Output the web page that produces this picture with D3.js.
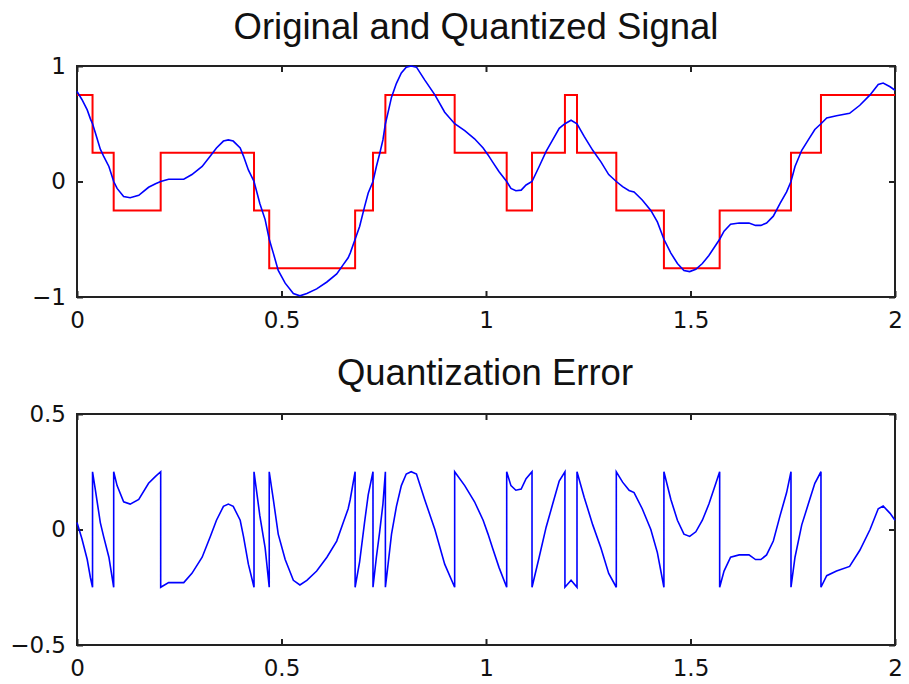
<!DOCTYPE html>
<html>
<head>
<meta charset="utf-8">
<script src="https://cdn.jsdelivr.net/npm/d3@7"></script>
<style>
  body { margin: 0; background: #fff; }
  svg { display: block; }
  text { fill: #111; }
</style>
</head>
<body>
<svg id="chart" width="909" height="684"></svg>
<script>
// signal samples (time, value)
const sigT = [0, 0.012, 0.025, 0.033, 0.038, 0.045, 0.057, 0.065, 0.078, 0.0897,
  0.098, 0.114, 0.13, 0.151, 0.175, 0.192, 0.2046, 0.224, 0.261, 0.281,
  0.306, 0.326, 0.341, 0.358, 0.37, 0.382, 0.399, 0.407, 0.419, 0.4328,
  0.447, 0.46, 0.47, 0.48, 0.492, 0.509, 0.529, 0.545, 0.562, 0.586,
  0.611, 0.635, 0.651, 0.663, 0.668, 0.68, 0.691, 0.703, 0.712, 0.7237,
  0.732, 0.74, 0.748, 0.754, 0.76, 0.769, 0.781, 0.793, 0.805, 0.817,
  0.83, 0.85, 0.875, 0.899, 0.9234, 0.948, 0.972, 0.993, 1.005, 1.016,
  1.032, 1.0506, 1.061, 1.073, 1.086, 1.098, 1.1125, 1.13, 1.147, 1.163,
  1.179, 1.193, 1.208, 1.2225, 1.24, 1.261, 1.281, 1.3, 1.3186, 1.334,
  1.35, 1.362, 1.382, 1.403, 1.419, 1.435, 1.452, 1.468, 1.484, 1.498,
  1.513, 1.529, 1.545, 1.562, 1.5713, 1.582, 1.598, 1.619, 1.643, 1.659,
  1.672, 1.686, 1.7025, 1.719, 1.735, 1.7457, 1.7555, 1.772, 1.788, 1.804,
  1.819, 1.833, 1.857, 1.889, 1.914, 1.939, 1.959, 1.971, 1.988, 2]
const sigV = [0.78, 0.71, 0.62, 0.54, 0.5, 0.42, 0.28, 0.22, 0.13, 0,
  -0.06, -0.13, -0.14, -0.12, -0.05, -0.02, 0, 0.02, 0.02, 0.06,
  0.13, 0.22, 0.29, 0.35, 0.36, 0.35, 0.29, 0.22, 0.1, 0,
  -0.19, -0.33, -0.5, -0.62, -0.77, -0.88, -0.97, -0.99, -0.97, -0.93,
  -0.87, -0.8, -0.72, -0.66, -0.62, -0.5, -0.39, -0.22, -0.1, 0,
  0.13, 0.24, 0.36, 0.5, 0.59, 0.73, 0.85, 0.94, 0.99, 1.0,
  0.99, 0.88, 0.75, 0.6, 0.5, 0.44, 0.37, 0.29, 0.23, 0.17,
  0.085, 0, -0.06, -0.08, -0.075, -0.03, 0, 0.13, 0.26, 0.36,
  0.46, 0.5, 0.53, 0.5, 0.39, 0.27, 0.17, 0.06, 0, -0.045,
  -0.08, -0.09, -0.16, -0.25, -0.35, -0.5, -0.62, -0.71, -0.77, -0.78,
  -0.76, -0.71, -0.64, -0.55, -0.5, -0.43, -0.37, -0.36, -0.36, -0.38,
  -0.38, -0.36, -0.3, -0.19, -0.09, 0, 0.13, 0.27, 0.36, 0.45,
  0.5, 0.55, 0.57, 0.59, 0.66, 0.75, 0.84, 0.852, 0.82, 0.79]

// quantized staircase: change points and the level held after each
const stepEdges = [0, 0.038, 0.0897, 0.2046, 0.4328, 0.47, 0.68, 0.7237, 0.754, 0.9234,
  1.0506, 1.1125, 1.193, 1.2225, 1.3186, 1.435, 1.5713, 1.7457, 1.819, 2]
const stepLevels = [0.75, 0.25, -0.25, 0.25, -0.25, -0.75, -0.25, 0.25, 0.75, 0.25,
  -0.25, 0.25, 0.75, 0.25, -0.25, -0.75, -0.25, 0.25, 0.75]

const xTicks = [0, 0.5, 1, 1.5, 2]
const xTickLabels = ['0', '0.5', '1', '1.5', '2']
const topYTicks = [-1, 0, 1]
const topYLabels = ['\u22121', '0', '1']
const botYTicks = [-0.5, 0, 0.5]
const botYLabels = ['\u22120.5', '0', '0.5']

const svg = d3.select('#chart')
const left = 77, right = 895

const x = d3.scaleLinear().domain([0, 2]).range([left, right])
const yTop = d3.scaleLinear().domain([-1, 1]).range([297, 66])
const yBot = d3.scaleLinear().domain([-0.5, 0.5]).range([645, 414])

const signal = sigT.map((t, i) => ({ t, v: sigV[i] }))
const steps = stepLevels.map((v, i) => ({ t: stepEdges[i], v }))
steps.push({ t: stepEdges[stepEdges.length - 1], v: stepLevels[stepLevels.length - 1] })

function levelIndex (t) {
  let i = 0
  while (i < stepLevels.length - 1 && stepEdges[i + 1] <= t) i++
  return i
}

// error = signal - quantized; at a change point keep both sides
const errorPts = []
signal.forEach(d => {
  const k = stepEdges.indexOf(d.t)
  if (k > 0 && k < stepEdges.length - 1) {
    errorPts.push({ t: d.t, e: d.v - stepLevels[k - 1] })
    errorPts.push({ t: d.t, e: d.v - stepLevels[k] })
  } else {
    errorPts.push({ t: d.t, e: d.v - stepLevels[levelIndex(d.t)] })
  }
})

function drawFrame (y, yTicks, yLabels, title, titleX, titleY) {
  const [bottom, top] = y.range()
  const g = svg.append('g')

  g.append('g')
    .attr('transform', `translate(0,${bottom})`)
    .call(d3.axisBottom(x).tickValues(xTicks).tickFormat((d, i) => xTickLabels[i])
      .tickSizeInner(-6).tickSizeOuter(0).tickPadding(15))
  g.append('g')
    .attr('transform', `translate(0,${top})`)
    .call(d3.axisTop(x).tickValues(xTicks).tickFormat('')
      .tickSizeInner(-6).tickSizeOuter(0))
  g.append('g')
    .attr('transform', `translate(${left},0)`)
    .call(d3.axisLeft(y).tickValues(yTicks).tickFormat((d, i) => yLabels[i])
      .tickSizeInner(-6).tickSizeOuter(0).tickPadding(11))
  g.append('g')
    .attr('transform', `translate(${right},0)`)
    .call(d3.axisRight(y).tickValues(yTicks).tickFormat('')
      .tickSizeInner(-6).tickSizeOuter(0))

  g.selectAll('.domain').remove()
  g.selectAll('.tick line').attr('stroke', '#222').attr('stroke-width', 2)
  g.selectAll('.tick text')
    .attr('font-family', '"DejaVu Sans", sans-serif')
    .attr('font-size', 23)
    .attr('fill', '#111')

  g.append('rect')
    .attr('x', left).attr('y', top)
    .attr('width', right - left).attr('height', bottom - top)
    .attr('fill', 'none').attr('stroke', '#222').attr('stroke-width', 2)

  svg.append('text')
    .attr('x', titleX).attr('y', titleY)
    .attr('text-anchor', 'middle')
    .attr('font-family', '"Liberation Sans", Arial, sans-serif')
    .attr('font-size', 36.5)
    .text(title)
}

drawFrame(yTop, topYTicks, topYLabels, 'Original and Quantized Signal', 476, 39)
drawFrame(yBot, botYTicks, botYLabels, 'Quantization Error', 485, 385)

const topPlot = svg.append('g')

topPlot.append('path')
  .datum(steps)
  .attr('fill', 'none')
  .attr('stroke', '#ff0000')
  .attr('stroke-width', 2)
  .attr('d', d3.line().x(d => x(d.t)).y(d => yTop(d.v)).curve(d3.curveStepAfter))

topPlot.append('path')
  .datum(signal)
  .attr('fill', 'none')
  .attr('stroke', '#0000ff')
  .attr('stroke-width', 1.6)
  .attr('d', d3.line().x(d => x(d.t)).y(d => yTop(d.v)))

svg.append('path')
  .datum(errorPts)
  .attr('fill', 'none')
  .attr('stroke', '#0000ff')
  .attr('stroke-width', 1.6)
  .attr('d', d3.line().x(d => x(d.t)).y(d => yBot(d.e)))
</script>
</body>
</html>
